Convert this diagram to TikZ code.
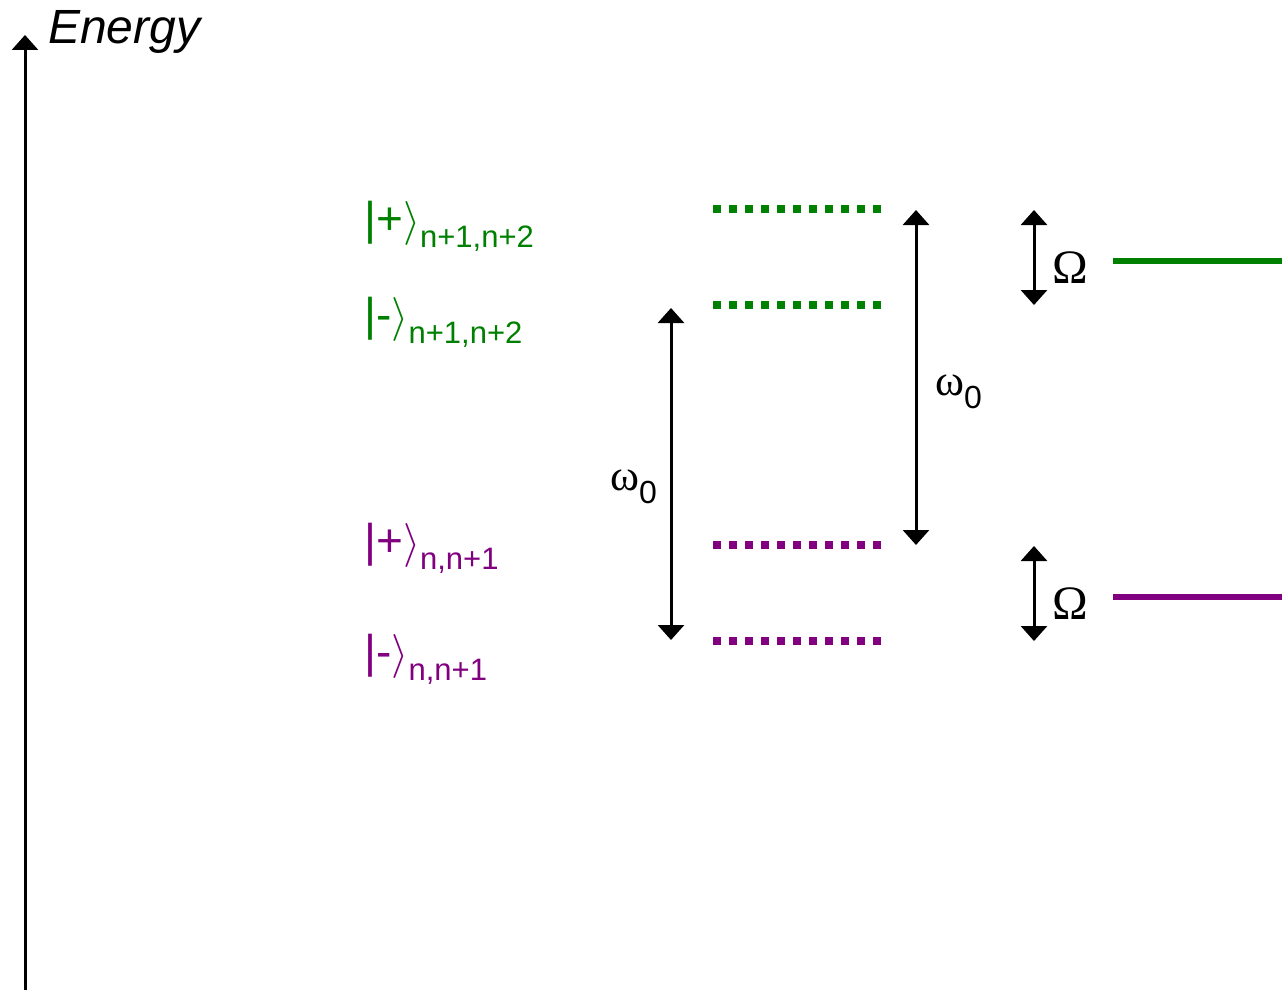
\documentclass[tikz,border=0pt]{standalone}
\usepackage{graphicx}
\usepackage{fontspec}
\setmainfont{Liberation Sans}
\newfontfamily\omfont{Liberation Serif}
\usetikzlibrary{arrows.meta}

\definecolor{upgreen}{RGB}{0,128,0}
\definecolor{lowpurple}{RGB}{128,0,128}

\newcommand{\ketlbl}[2]{{\fontsize{46}{46}\selectfont |#1\scalebox{4.4}{\normalsize$\rangle$}}\raisebox{-13pt}{\fontsize{31}{31}\selectfont #2}}
\newcommand{\omlbl}{{\omfont\fontsize{44}{44}\selectfont ω}\raisebox{-13pt}{\fontsize{32}{32}\selectfont 0}}

\begin{document}
\begin{tikzpicture}[
    x=1pt, y=-1pt,
    tip/.tip={Triangle[width=26pt, length=15pt]},
    dbl/.style={{tip}-{tip}, line width=3pt},
    dotlvl/.style={line width=8pt, dash pattern=on 8pt off 8pt},
    bare/.style={line width=6pt},
    ket/.style={anchor=base west, inner sep=0pt},
    gap/.style={anchor=base west, inner sep=0pt, font=\omfont\fontsize{48}{48}\selectfont},
]
  \useasboundingbox (0,0) rectangle (1282,990);

  % energy axis
  \coordinate (ybot) at (25,990);
  \coordinate (ytop) at (25,35);
  \draw[-{tip}, line width=3pt] (ybot) -- (ytop);
  \node[anchor=base west, inner sep=0pt, font=\itshape\fontsize{48}{48}\selectfont] (elbl) at (48,44) {Energy};

  % dressed states
  \node[ket, upgreen] (kp2) at (364,234) {\ketlbl{+}{n+1,n+2}};
  \node[ket, upgreen] (km2) at (364,330) {\ketlbl{-}{n+1,n+2}};
  \node[ket, lowpurple] (kp1) at (364,556) {\ketlbl{+}{n,n+1}};
  \node[ket, lowpurple] (km1) at (364,667) {\ketlbl{-}{n,n+1}};

  \draw[dotlvl, upgreen] (713,209) -- (882,209);
  \draw[dotlvl, upgreen] (713,305) -- (882,305);
  \draw[dotlvl, lowpurple] (713,545) -- (882,545);
  \draw[dotlvl, lowpurple] (713,641) -- (882,641);

  % omega_0 spacings
  \coordinate (wa1) at (671,308);
  \coordinate (wa2) at (671,640);
  \draw[dbl] (wa1) -- (wa2);
  \node[anchor=base west, inner sep=0pt] (wla) at (610,490) {\omlbl};

  \coordinate (wb1) at (916,210);
  \coordinate (wb2) at (916,545);
  \draw[dbl] (wb1) -- (wb2);
  \node[anchor=base west, inner sep=0pt] (wlb) at (935,395) {\omlbl};

  % Rabi splittings
  \coordinate (ra1) at (1034,210);
  \coordinate (ra2) at (1034,305);
  \draw[dbl] (ra1) -- (ra2);
  \node[gap] (rla) at (1052,283) {Ω};

  \coordinate (rb1) at (1034,546);
  \coordinate (rb2) at (1034,641);
  \draw[dbl] (rb1) -- (rb2);
  \node[gap] (rlb) at (1052,619) {Ω};

  % bare levels
  \coordinate (ba1) at (1113,261);
  \coordinate (ba2) at (1282,261);
  \draw[bare, upgreen] (ba1) -- (ba2);
  \coordinate (bb1) at (1113,597);
  \coordinate (bb2) at (1282,597);
  \draw[bare, lowpurple] (bb1) -- (bb2);
\end{tikzpicture}
\end{document}
